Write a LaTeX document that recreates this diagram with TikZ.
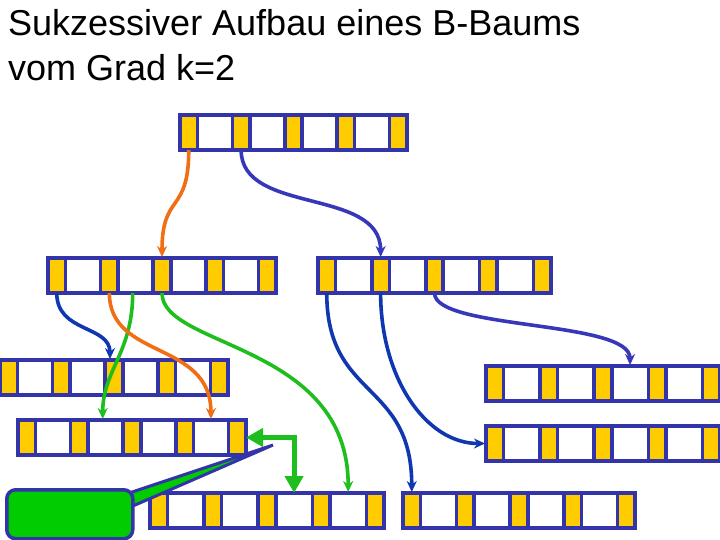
\documentclass[tikz,border=0pt]{standalone}
\usepackage{fontspec}
\setmainfont{Liberation Sans}
\usetikzlibrary{arrows.meta}
\definecolor{bblue}{RGB}{51,51,170}
\definecolor{yel}{RGB}{255,204,0}
\definecolor{corange}{RGB}{240,110,20}
\definecolor{cgreen}{RGB}{30,190,30}
\definecolor{cdblue}{RGB}{15,55,175}
\definecolor{cpurple}{RGB}{55,55,185}
\definecolor{callgreen}{RGB}{0,204,0}
\def\pw{17.5}
\newcommand{\btree}[5]{%
  \pgfmathsetmacro{\kw}{(#4-5*\pw)/4}%
  \foreach \i in {0,...,4}{%
    \pgfmathsetmacro{\px}{#2+\i*(\pw+\kw)}%
    \node[ptrcell, minimum width={\pw pt}, minimum height={#5 pt}] (#1-p\i) at (\px,#3) {};}%
  \foreach \i in {0,...,3}{%
    \pgfmathsetmacro{\kx}{#2+\pw+\i*(\pw+\kw)}%
    \node[keycell, minimum width={\kw pt}, minimum height={#5 pt}] (#1-k\i) at (\kx,#3) {};}%
  \node[frame, minimum width={#4 pt}, minimum height={#5 pt}] (#1) at (#2,#3) {};%
}
\tikzset{
  cellbase/.style={draw=bblue, line width=3.6pt, inner sep=0pt, outer sep=0pt, anchor=north west},
  ptrcell/.style={cellbase, fill=yel},
  keycell/.style={cellbase, fill=white},
  frame/.style={draw=bblue, line width=4.4pt, inner sep=0pt, outer sep=0pt, anchor=north west},
  conn/.style={line width=3.6pt, -{Stealth[length=11pt,width=10pt]}, shorten >=1pt},
  bigarrow/.style={draw=cgreen, line width=5pt, {Triangle[length=17pt,width=18pt]}-{Triangle[length=17pt,width=18pt]}},
  callbox/.style={draw=bblue, fill=callgreen, line width=3.5pt, rounded corners=9pt, inner sep=0pt, anchor=north west},
  wedge/.style={draw=bblue, fill=callgreen, line width=3pt, line join=miter}
}
\begin{document}
\begin{tikzpicture}[x=1pt,y=-1pt]
\useasboundingbox (0,0) rectangle (720,540);
\node[anchor=north west, inner sep=0pt, align=left, font=\fontsize{36}{45}\selectfont] (title) at (8,9) {Sukzessiver Aufbau eines B-Baums\\vom Grad k=2};
% B-tree nodes
\btree{T}{180}{115}{227}{35}
\btree{M1}{48}{258}{228}{35}
\btree{M2}{318}{258}{233}{35}
\btree{L1}{0}{360}{228}{35}
\btree{L2}{18}{420}{228}{35}
\btree{B1}{150}{493}{234}{35}
\btree{B2}{403}{493}{232}{35}
\btree{R1}{486}{366}{234}{35}
\btree{R2}{486}{426}{234}{35}
% connectors
\draw[conn, corange] (T-p0.south) .. controls +(0,65) and +(0,-66) .. (M1-p2.north);
\draw[conn, cpurple] (T-p1.south) .. controls +(0,65) and +(0,-71) .. (M2-p1.north);
\draw[conn, cdblue] (M1-p0.south) .. controls +(0,40) and +(0,-35) .. ([xshift=-4pt]L1-p2.north);
\draw[conn, cgreen] ([xshift=-3pt]M1-k1.south) .. controls +(0,60) and +(0,-50) .. ([xshift=-3pt]L2-k1.north);
\draw[conn, corange] (M1-p1.south) .. controls +(0,67) and +(0,-80) .. (L2-k3.north);
\draw[conn, cgreen] (M1-p2.south) .. controls +(0,55) and +(0,-150) .. (B1-k3.north);
\draw[conn, cdblue] (M2-p0.south) .. controls +(0,107) and +(0,-113) .. (B2-p0.north);
\draw[conn, cdblue] (M2-p1.south) .. controls +(0,85) and +(-60,0) .. (R2.west);
\draw[conn, cpurple] (M2-p2.south) .. controls +(0,37) and +(0,-46) .. (R1-k2.north);
\draw[bigarrow] (L2.east) -| (B1-k2.north);
% callout
\coordinate (tip) at (273,445);
\coordinate (w1) at (126,494);
\coordinate (w2) at (126,509);
\draw[wedge] (w1) -- (tip) -- (w2) -- cycle;
\node[callbox, minimum width=126pt, minimum height=49pt] (note) at (5,488) {};
\end{tikzpicture}
\end{document}
